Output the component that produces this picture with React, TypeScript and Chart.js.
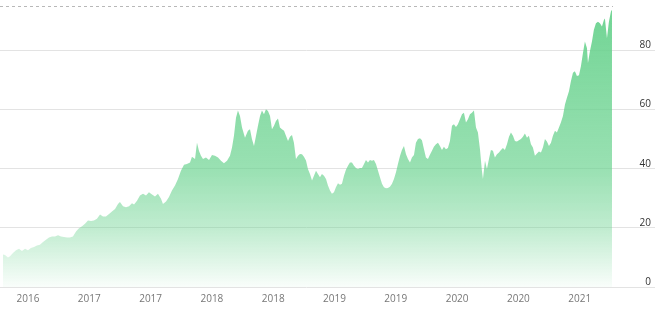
import React, { useEffect, useRef } from "react";
import { Chart, registerables } from "chart.js";

Chart.register(...registerables);

// Months since January 2016
const monthOffsets: number[] = [
  3.55, 3.75, 4.04, 4.24, 4.53, 4.83, 5.12, 5.41, 5.71, 6.0, 6.29, 6.59, 6.88, 7.17, 7.47, 7.76, 8.06, 8.35, 8.64, 8.94,
  9.23, 9.52, 9.82, 10.11, 10.4, 10.7, 10.99, 11.29, 11.58, 11.87, 12.17, 12.46, 12.75, 13.05, 13.34, 13.63, 13.93, 14.22, 14.52, 14.81,
  15.0, 15.3, 15.59, 15.89, 16.18, 16.38, 16.67, 16.96, 17.26, 17.55, 17.84, 18.14, 18.43, 18.72, 19.02, 19.21, 19.51, 19.8, 20.09, 20.39,
  20.68, 20.97, 21.27, 21.56, 21.86, 22.05, 22.35, 22.54, 22.74, 22.93, 23.13, 23.42, 23.72, 24.01, 24.3, 24.6, 24.89, 25.18, 25.48, 25.77,
  25.97, 26.16, 26.36, 26.55, 26.75, 26.95, 27.24, 27.53, 27.73, 27.92, 28.12, 28.32, 28.51, 28.71, 28.9, 29.1, 29.29, 29.49, 29.69, 29.88,
  30.08, 30.27, 30.47, 30.66, 30.86, 31.06, 31.25, 31.45, 31.64, 31.84, 32.03, 32.23, 32.43, 32.62, 32.82, 33.01, 33.21, 33.4, 33.6, 33.8,
  33.99, 34.19, 34.38, 34.58, 34.77, 34.97, 35.17, 35.36, 35.56, 35.75, 35.95, 36.14, 36.34, 36.54, 36.73, 36.93, 37.12, 37.32, 37.51, 37.71,
  37.91, 38.1, 38.3, 38.49, 38.69, 38.89, 39.08, 39.28, 39.47, 39.67, 39.86, 40.06, 40.26, 40.45, 40.65, 40.84, 41.04, 41.23, 41.43, 41.63,
  41.82, 42.02, 42.21, 42.41, 42.6, 42.8, 43.0, 43.19, 43.39, 43.58, 43.78, 43.97, 44.17, 44.37, 44.56, 44.76, 44.95, 45.15, 45.34, 45.54,
  45.73, 45.93, 46.13, 46.32, 46.52, 46.71, 46.91, 47.1, 47.3, 47.5, 47.69, 47.89, 48.08, 48.28, 48.48, 48.67, 48.87, 49.06, 49.26, 49.45,
  49.65, 49.85, 50.04, 50.24, 50.34, 50.43, 50.53, 50.73, 50.92, 51.12, 51.31, 51.51, 51.7, 51.9, 52.1, 52.29, 52.49, 52.68, 52.88, 53.08,
  53.27, 53.47, 53.66, 53.86, 54.05, 54.25, 54.44, 54.64, 54.84, 55.03, 55.23, 55.42, 55.62, 55.82, 56.01, 56.21, 56.4, 56.6, 56.79, 56.99,
  57.19, 57.38, 57.58, 57.77, 57.97, 58.16, 58.36, 58.56, 58.75, 58.95, 59.14, 59.34, 59.53, 59.73, 59.93, 60.12, 60.32, 60.51, 60.71, 60.81,
  61.0, 61.2, 61.39, 61.59, 61.79, 61.98, 62.18, 62.37, 62.47, 62.67, 62.86, 63.06, 63.16,
];

const prices: number[] = [
  11.0, 10.8, 10.0, 10.4, 11.5, 12.4, 12.9, 12.2, 12.9, 12.4, 13.2, 13.5, 14.0, 14.3, 15.2, 16.0, 16.7, 17.1, 17.1, 17.5,
  17.1, 16.9, 16.7, 16.7, 17.1, 18.8, 19.9, 20.5, 21.4, 22.5, 22.3, 22.5, 23.1, 24.5, 23.8, 23.8, 24.7, 25.5, 26.4, 28.1,
  28.7, 27.3, 27.0, 27.3, 28.3, 27.9, 29.2, 30.9, 31.5, 30.9, 32.0, 31.3, 30.6, 31.5, 29.8, 28.1, 28.9, 30.4, 32.6, 34.3,
  36.5, 39.3, 41.3, 41.6, 42.1, 44.0, 43.3, 48.8, 46.0, 44.4, 43.3, 43.8, 42.9, 44.6, 44.4, 43.8, 42.7, 41.8, 42.7, 44.4,
  47.2, 51.1, 57.2, 59.7, 57.8, 53.9, 50.5, 52.8, 53.3, 50.0, 47.7, 51.1, 54.5, 57.8, 59.7, 58.4, 60.1, 59.5, 57.8, 53.3,
  54.5, 56.1, 57.0, 53.9, 53.3, 52.8, 51.1, 49.4, 50.8, 51.4, 48.8, 43.3, 44.4, 45.0, 44.9, 44.0, 42.8, 39.9, 38.2, 36.0,
  37.6, 39.3, 38.2, 37.1, 38.2, 37.6, 36.5, 34.3, 32.6, 31.5, 32.0, 33.7, 35.1, 34.6, 34.9, 37.6, 39.6, 41.0, 42.1, 42.1,
  41.0, 40.2, 39.9, 40.2, 40.2, 41.6, 42.9, 42.1, 42.9, 42.7, 42.9, 41.6, 39.3, 37.1, 34.9, 33.7, 33.4, 33.5, 33.9, 34.9,
  36.5, 38.8, 41.6, 44.3, 46.3, 47.7, 44.9, 43.3, 42.1, 43.8, 44.6, 48.8, 50.0, 50.3, 49.6, 46.6, 43.8, 43.3, 44.7, 46.1,
  47.4, 48.3, 48.8, 47.7, 46.3, 47.4, 46.6, 47.0, 49.4, 54.5, 55.0, 54.1, 55.0, 56.7, 58.4, 58.9, 55.6, 56.7, 58.4, 58.9,
  59.7, 53.9, 52.2, 46.6, 42.7, 39.3, 36.5, 42.7, 39.9, 43.3, 46.3, 46.1, 43.8, 44.9, 45.5, 46.3, 47.0, 46.3, 48.3, 50.8,
  52.2, 51.1, 49.4, 49.2, 49.6, 50.0, 50.8, 51.9, 50.5, 51.1, 48.3, 47.2, 44.4, 45.1, 45.8, 45.5, 47.2, 50.0, 49.2, 47.7,
  48.8, 51.1, 52.8, 52.2, 53.9, 55.6, 57.8, 61.7, 64.0, 66.2, 69.6, 72.4, 72.9, 71.3, 71.6, 74.6, 79.1, 83.0, 80.8, 75.7,
  79.7, 83.0, 87.0, 89.2, 89.7, 89.2, 88.1, 90.3, 90.8, 84.1, 89.7, 93.1, 93.7,
];

const xTickMonths: number[] = [6, 12, 18, 24, 30, 36, 42, 48, 54, 60];
const xTickLabels: string[] = ["2016", "2017", "2017", "2018", "2018", "2019", "2019", "2020", "2020", "2021"];
const yTickValues: number[] = [0, 20, 40, 60, 80];

const X_MIN = 3.26;
const X_MAX = 63.26;
const Y_MAX = 95;

export default function App() {
  const canvasRef = useRef<HTMLCanvasElement | null>(null);

  useEffect(() => {
    const canvas = canvasRef.current;
    if (!canvas) return;
    const points = monthOffsets.map((m, i) => ({ x: m, y: prices[i] }));
    const isTop = (ctx: any) => ctx && ctx.tick && ctx.tick.value === Y_MAX;

    const chart = new Chart(canvas, {
      type: "line",
      data: {
        datasets: [
          {
            data: points,
            fill: "origin",
            borderColor: "rgba(0,0,0,0)",
            borderWidth: 0,
            pointRadius: 0,
            tension: 0,
            backgroundColor: (ctx: any) => {
              const { chart: ch } = ctx;
              const area = ch.chartArea;
              if (!area) return "rgba(110,212,145,0.6)";
              const g = ch.ctx.createLinearGradient(0, area.top, 0, area.bottom);
              g.addColorStop(0, "rgba(105,210,142,0.95)");
              g.addColorStop(0.58, "rgba(105,210,142,0.68)");
              g.addColorStop(0.79, "rgba(105,210,142,0.42)");
              g.addColorStop(0.94, "rgba(105,210,142,0.15)");
              g.addColorStop(1, "rgba(105,210,142,0.04)");
              return g;
            },
          },
        ],
      },
      options: {
        responsive: false,
        animation: false,
        devicePixelRatio: 1,
        layout: { padding: { top: 4, left: 0, right: 9, bottom: 5 } },
        plugins: { legend: { display: false }, tooltip: { enabled: false } },
        scales: {
          x: {
            type: "linear",
            position: "bottom",
            min: X_MIN,
            max: X_MAX,
            grid: { display: false, drawTicks: false },
            border: { display: false },
            afterBuildTicks: (scale: any) => {
              scale.ticks = xTickMonths.map((v) => ({ value: v }));
            },
            ticks: {
              autoSkip: false,
              maxRotation: 0,
              padding: 6,
              color: "#777",
              font: { family: "'Open Sans', sans-serif", size: 10 },
              callback: (value: any) => {
                const i = xTickMonths.indexOf(Number(value));
                return i >= 0 ? xTickLabels[i] : "";
              },
            },
          },
          y: {
            type: "linear",
            position: "right",
            min: 0,
            max: Y_MAX,
            afterBuildTicks: (scale: any) => {
              scale.ticks = [...yTickValues, Y_MAX].map((v) => ({ value: v }));
            },
            afterFit: (scale: any) => {
              scale.width = 38;
            },
            grid: {
              color: (ctx: any) => (isTop(ctx) ? "#b8b8b8" : "#e3e3e3"),
              tickColor: (ctx: any) => (isTop(ctx) ? "rgba(0,0,0,0)" : "#e3e3e3"),
              drawTicks: true,
              tickLength: 42,
            },
            border: {
              display: false,
              dash: (ctx: any) => (isTop(ctx) ? [3, 3] : []),
            },
            ticks: {
              crossAlign: "far",
              padding: 0,
              labelOffset: -5,
              color: "#333",
              font: { family: "'Open Sans', sans-serif", size: 10 },
              callback: (value: any) => (yTickValues.indexOf(Number(value)) >= 0 ? String(value) : ""),
            },
          },
        },
      },
    });
    return () => chart.destroy();
  }, []);

  return (
    <div style={{ position: "fixed", left: 0, top: 0, width: 660, height: 316, background: "#fff" }}>
      <canvas ref={canvasRef} width={660} height={316} style={{ display: "block", width: 660, height: 316 }} />
    </div>
  );
}
